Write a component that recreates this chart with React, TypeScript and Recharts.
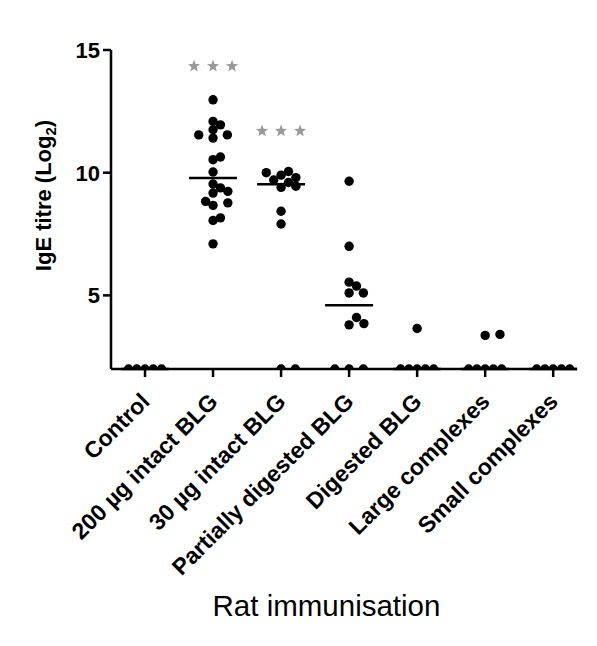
import React from 'react';
import { ScatterChart, Scatter, XAxis, YAxis, ReferenceLine } from 'recharts';

// ---------- data ----------
const categories = [
  'Control',
  '200 µg intact BLG',
  '30 µg intact BLG',
  'Partially digested BLG',
  'Digested BLG',
  'Large complexes',
  'Small complexes',
];
const control = [2, 2, 2, 2, 2];
const intact200 = [12.97, 12.09, 11.95, 11.75, 11.54, 11.54, 11.41, 10.64, 10.53, 10.03, 9.54, 9.38, 9.24, 9.17, 8.83, 8.77, 8.67, 8.16, 8.05, 7.1];
const intact30 = [10.05, 10.0, 9.9, 9.8, 9.7, 9.6, 9.45, 9.4, 8.43, 7.91, 2, 2];
const partiallyDigested = [9.65, 7.0, 5.54, 5.38, 5.1, 5.1, 4.1, 3.85, 3.8, 2, 2, 2];
const digested = [3.65, 2, 2, 2, 2, 2];
const largeComplexes = [3.41, 3.37, 2, 2, 2, 2, 2];
const smallComplexes = [2, 2, 2, 2, 2];
const groups = [control, intact200, intact30, partiallyDigested, digested, largeComplexes, smallComplexes];
const yTicks = [5, 10, 15];
const significance = [
  { group: 1, y: 14.36 },
  { group: 2, y: 11.72 },
];

// ---------- layout ----------
const FONT = '"Liberation Sans", Arial, Helvetica, sans-serif';
const CHART_W = 589;
const CHART_H = 630;
const MARGIN = { top: 42, right: 20, bottom: 0, left: 0 };
const Y_AXIS_W = 103;
const X_AXIS_H = 269;
const PLOT_W = CHART_W - MARGIN.left - MARGIN.right - Y_AXIS_W;
const PLOT_H = CHART_H - MARGIN.top - MARGIN.bottom - X_AXIS_H;
const X_DOMAIN: [number, number] = [-0.5, 6.35];
const Y_DOMAIN: [number, number] = [2, 15];
const PX_X = PLOT_W / (X_DOMAIN[1] - X_DOMAIN[0]);
const PX_Y = PLOT_H / (Y_DOMAIN[1] - Y_DOMAIN[0]);
const STEP = 7.4;
const MIN_D = 7.8;
const TIE_MAX = 14.3;
const TIE_SPAN = 33;
const DOT_R = 4.7;
const MEDIAN_HALF = 24 / PX_X;

function swarm(values: number[]): number[] {
  const order = values.map((_, i) => i).sort((a, b) => values[a] - values[b] || a - b);
  const placed: { x: number; y: number; v: number; s: number }[] = [];
  const off = new Array(values.length).fill(0);
  for (const i of order) {
    const v = values[i];
    const n = values.filter((w) => w === v).length;
    const step = n > 1 ? Math.min(TIE_MAX, TIE_SPAN / (n - 1)) : STEP;
    const y = v * PX_Y;
    for (let k = 0; k < 80; k++) {
      const m = k === 0 ? 0 : k % 2 === 1 ? (k + 1) / 2 : -k / 2;
      const x = m * step;
      const ok = placed.every((p) => {
        const d = p.v === v ? Math.min(step, p.s) : MIN_D;
        return (p.x - x) ** 2 + (p.y - y) ** 2 >= d * d - 0.01;
      });
      if (ok) {
        placed.push({ x, y, v, s: step });
        off[i] = x;
        break;
      }
    }
  }
  return off;
}

function median(values: number[]): number {
  const s = [...values].sort((a, b) => a - b);
  const n = s.length;
  return n % 2 ? s[(n - 1) / 2] : (s[n / 2 - 1] + s[n / 2]) / 2;
}

const points = groups.flatMap((vals, g) => {
  const off = swarm(vals);
  return vals.map((v, i) => ({ x: g + off[i] / PX_X, y: v }));
});

const medians = groups.map((vals, g) => ({ g, m: median(vals) }));

const starPoints = (cx: number, cy: number, R: number) => {
  const r = R * 0.42;
  const pts: string[] = [];
  for (let i = 0; i < 10; i++) {
    const a = -Math.PI / 2 + (i * Math.PI) / 5;
    const rad = i % 2 === 0 ? R : r;
    pts.push(`${cx + rad * Math.cos(a)},${cy + rad * Math.sin(a)}`);
  }
  return pts.join(' ');
};

const StarsShape = (props: any) => {
  const { cx, cy } = props;
  return (
    <g>
      {[-19, 0, 19].map((d) => (
        <polygon key={d} points={starPoints(cx + d, cy + 0.5, 6.4)} fill="#999999" />
      ))}
    </g>
  );
};

const DotShape = (props: any) => <circle cx={props.cx} cy={props.cy} r={DOT_R} fill="#000" />;

const CatTick = (props: any) => {
  const { x, y, payload } = props;
  const ax = x + 6;
  const ay = y + 24;
  return (
    <text
      x={ax}
      y={ay}
      textAnchor="end"
      transform={`rotate(-45, ${ax}, ${ay})`}
      fontFamily={FONT}
      fontWeight="bold"
      fontSize={23}
      fill="#000"
    >
      {categories[payload.value]}
    </text>
  );
};

const YLabel = (props: any) => {
  const vb = props.viewBox || { x: 0, y: MARGIN.top, width: Y_AXIS_W, height: PLOT_H };
  const lx = vb.x + 43;
  const ly = vb.y + vb.height / 2 - 14;
  return (
    <text
      x={lx}
      y={ly}
      textAnchor="middle"
      transform={`rotate(-90, ${lx}, ${ly})`}
      fontFamily={FONT}
      fontWeight="bold"
      fontSize={22}
      fill="#000"
    >
      <tspan>IgE titre (Log</tspan>
      <tspan fontSize={15} dy={5}>2</tspan>
      <tspan dy={-5}>)</tspan>
    </text>
  );
};

const XLabel = (props: any) => {
  const vb = props.viewBox || { x: Y_AXIS_W, y: MARGIN.top + PLOT_H, width: PLOT_W, height: X_AXIS_H };
  const lx = vb.x + vb.width / 2 - 17.5;
  const ly = vb.y + 247;
  return (
    <text x={lx} y={ly} textAnchor="middle" fontFamily={FONT} fontSize={29.5} fill="#000">
      Rat immunisation
    </text>
  );
};

const axisStroke = { stroke: '#000', strokeWidth: 2.5 };

export default function App() {
  return (
    <div style={{ width: CHART_W, height: CHART_H, background: '#fff' }}>
      <ScatterChart width={CHART_W} height={CHART_H} margin={MARGIN}>
        <XAxis
          type="number"
          dataKey="x"
          domain={X_DOMAIN}
          ticks={[0, 1, 2, 3, 4, 5, 6]}
          interval={0}
          height={X_AXIS_H}
          tickSize={8}
          tickMargin={2}
          axisLine={axisStroke}
          tickLine={axisStroke}
          tick={(p: any) => <CatTick {...p} />}
          label={<XLabel />}
          allowDataOverflow
        />
        <YAxis
          type="number"
          dataKey="y"
          domain={Y_DOMAIN}
          ticks={yTicks}
          interval={0}
          width={Y_AXIS_W}
          tickSize={8}
          tickMargin={3}
          axisLine={axisStroke}
          tickLine={axisStroke}
          tick={{ fill: '#000', fontSize: 22, fontWeight: 'bold', fontFamily: FONT }}
          label={<YLabel />}
          allowDataOverflow
        />
        {medians.map(({ g, m }) => (
          <ReferenceLine
            key={g}
            segment={[
              { x: g - MEDIAN_HALF, y: m },
              { x: g + MEDIAN_HALF, y: m },
            ]}
            stroke="#000"
            strokeWidth={2.5}
            ifOverflow="visible"
          />
        ))}
        <Scatter data={points} shape={DotShape} isAnimationActive={false} />
        <Scatter
          data={significance.map((s) => ({ x: s.group, y: s.y }))}
          shape={StarsShape}
          isAnimationActive={false}
        />
      </ScatterChart>
    </div>
  );
}
